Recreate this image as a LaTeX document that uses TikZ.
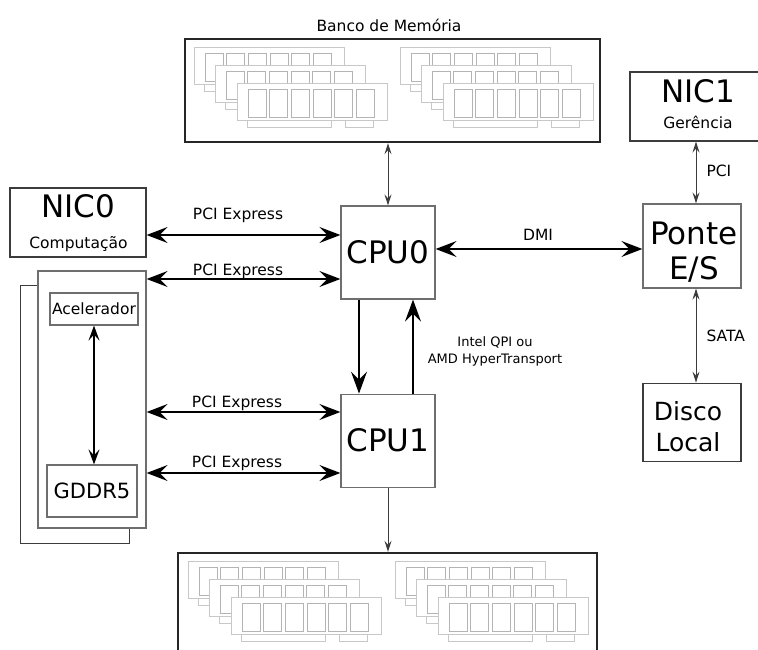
\documentclass[tikz,border=0pt]{standalone}
\usepackage{fontspec}
\setmainfont{DejaVu Sans}
\usetikzlibrary{positioning, arrows.meta, calc}
\definecolor{boxg}{RGB}{110,110,110}
\definecolor{darkb}{RGB}{60,60,60}
\definecolor{ramg}{RGB}{200,200,200}
\definecolor{chipg}{RGB}{180,180,180}

% one memory module, top left corner at (#1,#2)
\newcommand{\ramstick}[2]{%
  \begin{scope}[shift={(#1,#2)}]
    \draw[ramline] (0,0) rectangle (150,37);
    \draw[ramline] (10,37) rectangle (94,44);
    \draw[ramline] (108,37) rectangle (136,44);
    \foreach \c in {0,...,5}
      \draw[chipline] ({11+21.7*\c},6) rectangle +(18,28);
  \end{scope}}
% three modules stacked
\newcommand{\ramgroup}[2]{%
  \ramstick{#1}{#2}
  \ramstick{#1+21}{#2+18}
  \ramstick{#1+43}{#2+36}}

\begin{document}
\begin{tikzpicture}
[x=1pt, y=-1pt,
   box/.style={shape=rectangle, draw=boxg, line width=1.2pt, fill=white, inner sep=0pt},
   bank/.style={shape=rectangle, draw=black!85, line width=2.4pt, inner sep=0pt},
   ramline/.style={draw=ramg, line width=0.9pt, fill=white},
   chipline/.style={draw=chipg, line width=0.9pt},
   bigarr/.style={line width=1.8pt, >={Stealth[length=21pt,width=16pt,inset=8pt]}, <->},
   qpi/.style={line width=2pt, >={Stealth[length=22pt,width=16pt,inset=8pt]}, ->},
   midarr/.style={line width=1.3pt, >={Stealth[length=15pt,width=11pt,inset=6pt]}, <->},
   thinarr/.style={line width=1pt, draw=darkb, >={Stealth[length=11pt,width=7pt,inset=4pt]}, <->},
   thinone/.style={thinarr, ->},
   hugetxt/.style={font=\fontsize{31}{34}\selectfont},
   largetxt/.style={font=\fontsize{25}{28}\selectfont},
   medtxt/.style={font=\fontsize{21}{24}\selectfont},
   lbl/.style={font=\fontsize{15.5}{18}\selectfont},
   smalltxt/.style={font=\fontsize{13}{16.5}\selectfont}]
\useasboundingbox (0,0) rectangle (758,650);

% memory banks
\node[bank, minimum width=415pt, minimum height=103pt] (memtop) at (392.5,90.5) {};
\node[lbl, anchor=base] (memname) at (389,32) {Banco de Memória};
\node[bank, minimum width=419pt, minimum height=104pt] (membot) at (387.5,605) {};
\ramgroup{194}{47}
\ramgroup{400}{47}
\ramgroup{188}{561}
\ramgroup{395}{561}

% processors
\node[box, hugetxt, minimum width=94pt, minimum height=93pt] (cpu0) at (388,252.5) {CPU0};
\node[box, hugetxt, minimum width=94pt, minimum height=93pt] (cpu1) [below=94pt of cpu0] {CPU1};

% network cards
\node[box, draw=darkb, minimum width=136pt, minimum height=69pt] (nic0) at (78,222.5) {};
\node[hugetxt, anchor=base] (nic0name) at (78,218) {NIC0};
\node[lbl, anchor=base] (nic0use) at (78.5,248) {Computação};
\node[box, draw=darkb, minimum width=136pt, minimum height=69pt] (nic1) at (698,106.5) {};
\node[hugetxt, anchor=base] (nic1name) at (698,103) {NIC1};
\node[lbl, anchor=base] (nic1use) at (698,129) {Gerência};

% I/O bridge and disk
\node[box, minimum width=98pt, minimum height=84pt] (ponte) at (692,246) {};
\node[hugetxt, anchor=base] (ponteA) at (694,244) {Ponte};
\node[hugetxt, anchor=base] (ponteB) at (694,279) {E/S};
\node[box, draw=darkb, minimum width=98pt, minimum height=78pt] (disco) [below=94pt of ponte] {};
\node[largetxt, anchor=base] (discoA) at (688,420) {Disco};
\node[largetxt, anchor=base] (discoB) at (688,451) {Local};

% accelerator cards
\node[box, draw=darkb, line width=0.9pt, minimum width=109pt, minimum height=258pt] (gpuback) at (74.5,414) {};
\node[box, minimum width=108pt, minimum height=257pt] (gpu) at (92,399.5) {};
\node[box, lbl, minimum width=88pt, minimum height=32pt] (acel) at (94,309) {Acelerador};
\node[box, medtxt, minimum width=90pt, minimum height=52pt] (gddr) at (92,491) {GDDR5};
\draw[midarr] (acel.south) -- (acel.south |- gddr.north);

% PCI Express links
\coordinate (pcieA) at (0,235);
\coordinate (pcieB) at (0,279);
\coordinate (pcieC) at (0,412);
\coordinate (pcieD) at (0,473);
\draw[bigarr] (nic0.east |- pcieA) -- (cpu0.west |- pcieA);
\draw[bigarr] (gpu.east |- pcieB) -- (cpu0.west |- pcieB);
\draw[bigarr] (gpu.east |- pcieC) -- (cpu1.west |- pcieC);
\draw[bigarr] (gpu.east |- pcieD) -- (cpu1.west |- pcieD);
\node[lbl, anchor=base] (pcieAl) at (238,219) {PCI Express};
\node[lbl, anchor=base] (pcieBl) at (238,275) {PCI Express};
\node[lbl, anchor=base] (pcieCl) at (237,407) {PCI Express};
\node[lbl, anchor=base] (pcieDl) at (237,467) {PCI Express};

% memory links
\draw[thinarr] (memtop.south -| cpu0.north) -- (cpu0.north);
\draw[thinone] (cpu1.south) -- (membot.north -| cpu1.south);

% processor interconnect
\coordinate (qpiL) at (359,0);
\coordinate (qpiR) at (413,0);
\draw[qpi] (cpu0.south -| qpiL) -- (cpu1.north -| qpiL);
\draw[qpi] (cpu1.north -| qpiR) -- (cpu0.south -| qpiR);
\node[smalltxt, align=center] (qpilbl) at (495,351.6) {Intel QPI ou\\AMD HyperTransport};

% DMI
\coordinate (dmiy) at (0,249);
\draw[bigarr] (cpu0.east |- dmiy) -- (ponte.west |- dmiy);
\node[lbl, anchor=base] (dmilbl) at (538,240) {DMI};

% bridge links
\coordinate (iox) at (696,0);
\draw[thinarr] (nic1.south -| iox) -- (ponte.north -| iox);
\draw[thinarr] (ponte.south -| iox) -- (disco.north -| iox);
\node[lbl, anchor=base west] (pcilbl) at (703,176.7) {PCI};
\node[lbl, anchor=base west] (satalbl) at (703,341.7) {SATA};
\end{tikzpicture}
\end{document}
